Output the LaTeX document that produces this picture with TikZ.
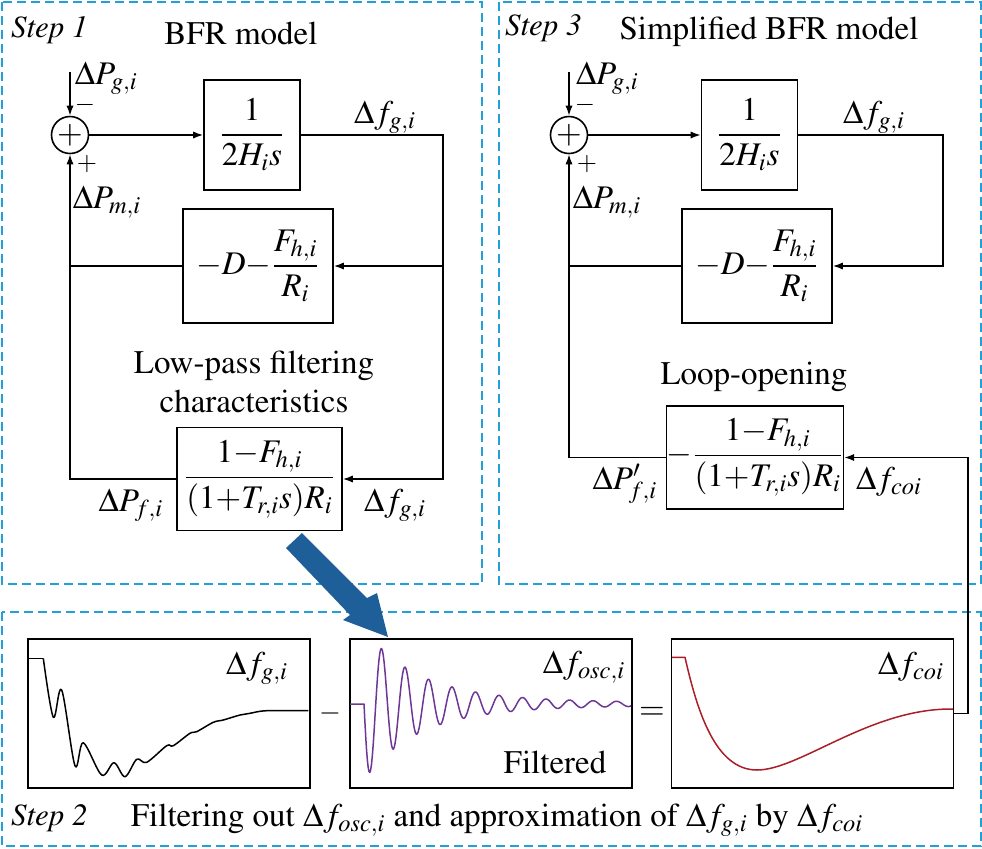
\documentclass[tikz,border=0pt]{standalone}
\usepackage{amsmath}
\usepackage[T1]{fontenc}
\usepackage{mathptmx}
\usetikzlibrary{arrows.meta}
\definecolor{dashc}{RGB}{35,160,215}
\definecolor{bigblue}{RGB}{31,95,153}
\definecolor{oscc}{RGB}{110,55,150}
\definecolor{coic}{RGB}{170,30,40}
\begin{document}
\begin{tikzpicture}[x=0.5pt,y=-0.5pt,
  every node/.style={font=\fontsize{16.5}{19.5}\selectfont,inner sep=0.3pt},
  blk/.style={draw,line width=0.8pt,inner sep=0pt,align=center},
  conn/.style={line width=0.8pt},
  arr/.style={conn,-{Latex[length=5pt,width=3.6pt]}},
  dbox/.style={draw=dashc,line width=1pt,dash pattern=on 4.5pt off 2.5pt},
  sumj/.style={draw,circle,line width=0.8pt,minimum size=18.5pt,inner sep=0pt},
  sign/.style={font=\fontsize{13}{15}\selectfont,inner sep=0pt},
  steplab/.style={font=\fontsize{15.5}{18}\selectfont\itshape,anchor=west},
  plotbox/.style={draw,line width=0.8pt,minimum width=141pt,minimum height=74.5pt,inner sep=0pt},
  curve/.style={line width=0.75pt,line join=round}
]
\useasboundingbox (0,0) rectangle (982,848);

% dashed frames
\draw[dbox] (2,2) rectangle (482,584);
\draw[dbox] (499,2) rectangle (980.5,584);
\draw[dbox] (2,612) rectangle (980.5,846);

% ---------- Step 1 ----------
\node[steplab] (st1) at (10,30) {Step 1};
\node (t1) at (241,33) {BFR model};
\node[sumj] (s1) at (70,135) {$+$};
\node[blk,minimum width=48pt,minimum height=55pt] (A1) at (252,135) {$\dfrac{1}{2H_i s}$};
\node[blk,minimum width=75pt,minimum height=57pt] (B1) at (258,266) {${-}D{-}\dfrac{F_{h,i}}{R_i}$};
\node[blk,minimum width=82.5pt,minimum height=51.5pt] (C1) at (259.5,479) {$\dfrac{1{-}F_{h,i}}{(1{+}T_{r,i}s)R_i}$};
\coordinate (in1) at (70,72);
\coordinate (r1) at (443,135);
\draw[arr] (in1) -- (s1.north);
\draw[arr] (s1.east) -- (A1.west);
\draw[arr] (A1.east) -- (r1) |- (C1.east);
\draw[arr] (r1 |- B1.east) -- (B1.east);
\draw[conn] (B1.west) -- (B1.west -| s1.south);
\draw[arr] (C1.west) -| (s1.south);
\node[anchor=west] (pg1) at (74,78) {$\Delta P_{g,i}$};
\node[sign] (m1) at (85,105) {$-$};
\node[sign] (p1) at (87,164) {$+$};
\node (fg1) at (385,117) {$\Delta f_{g,i}$};
\node (pm1) at (107,202) {$\Delta P_{m,i}$};
\node[align=center] (lp) at (254,382) {Low-pass filtering\\characteristics};
\node (pf1) at (131,505) {$\Delta P_{f,i}$};
\node (fg1b) at (395,505) {$\Delta f_{g,i}$};

% ---------- Step 3 ----------
\node[steplab] (st3) at (504,28) {Step 3};
\node (t3) at (769,32) {Simplified BFR model};
\node[sumj] (s3) at (569,135) {$+$};
\node[blk,minimum width=48pt,minimum height=55pt] (A3) at (749.5,135) {$\dfrac{1}{2H_i s}$};
\node[blk,minimum width=75pt,minimum height=57pt] (B3) at (757,266) {${-}D{-}\dfrac{F_{h,i}}{R_i}$};
\node[blk,minimum width=88pt,minimum height=51.5pt] (C3) at (755,457.5) {$-\dfrac{1{-}F_{h,i}}{(1{+}T_{r,i}s)R_i}$};
\coordinate (in3) at (569,72);
\coordinate (r3) at (943,135);
\draw[arr] (in3) -- (s3.north);
\draw[arr] (s3.east) -- (A3.west);
\draw[arr] (A3.east) -- (r3) |- (B3.east);
\draw[conn] (B3.west) -- (B3.west -| s3.south);
\draw[arr] (C3.west) -| (s3.south);
\node[anchor=west] (pg3) at (575,78) {$\Delta P_{g,i}$};
\node[sign] (m3) at (585,105) {$-$};
\node[sign] (p3) at (587,164) {$+$};
\node (fg3) at (874,117) {$\Delta f_{g,i}$};
\node (pm3) at (607,202) {$\Delta P_{m,i}$};
\node (lo3) at (754,377) {Loop-opening};
\node (pf3) at (625,484) {$\Delta P'_{f,i}$};
\node (fc3) at (889,482) {$\Delta f_{coi}$};

% ---------- Step 2 ----------
\node[plotbox] (P1) at (169,713.5) {};
\node[plotbox] (P2) at (491,713.5) {};
\node[plotbox] (P3) at (812.5,713.5) {};

\draw[curve] (28,658.3) -- (43.3,658.3);
\draw[curve] plot[smooth,tension=0.55] coordinates {(43.3,658.3) (53.3,717.3) (61.7,690) (75,765.7) (83.3,742.7) (101.7,775) (114,762.7) (125,776.7) (136.7,759.3) (146.7,762.3) (166.7,745.7) (173.3,745.7) (190,733.3) (196.7,731.7) (213.3,722.3) (223.3,720) (240,715) (250,713.3) (266.7,710.7) (308.3,710.7)};

\draw[curve,oscc] (350,704) -- (364,704) -- plot[domain=0:267,samples=320] ({364+\x},{704+(70*exp(-\x/52)+6*exp(-\x/250))*sin(\x*15.3191)});

\draw[curve,coic] (672,657.3) -- (685,657.3) .. controls (697,710) and (715,770) .. (757,770) .. controls (800,770) and (870,708) .. (953,709);

\coordinate (rc) at (968,713.5);
\draw[arr] (P3.east) -- (rc) |- (C3.east);

\node (lg) at (257,668) {$\Delta f_{g,i}$};
\node (losc) at (584,667) {$\Delta f_{osc,i}$};
\node (lf) at (555,762) {Filtered};
\node (lc) at (911,667) {$\Delta f_{coi}$};
\node[font=\fontsize{14}{16}\selectfont] (mn) at (330,713) {$-$};
\node (eq) at (652,713) {$=$};
\node[steplab] (st2) at (10,818) {Step 2};
\node (cap) at (497,820) {Filtering out $\Delta f_{osc,i}$ and approximation of $\Delta f_{g,i}$ by $\Delta f_{coi}$};

% big blue arrow
\fill[bigblue] (286,548) -- (302,533) -- (367,598) -- (377,593) -- (388,637) -- (343,620) -- (350,615) -- cycle;
\end{tikzpicture}
\end{document}
